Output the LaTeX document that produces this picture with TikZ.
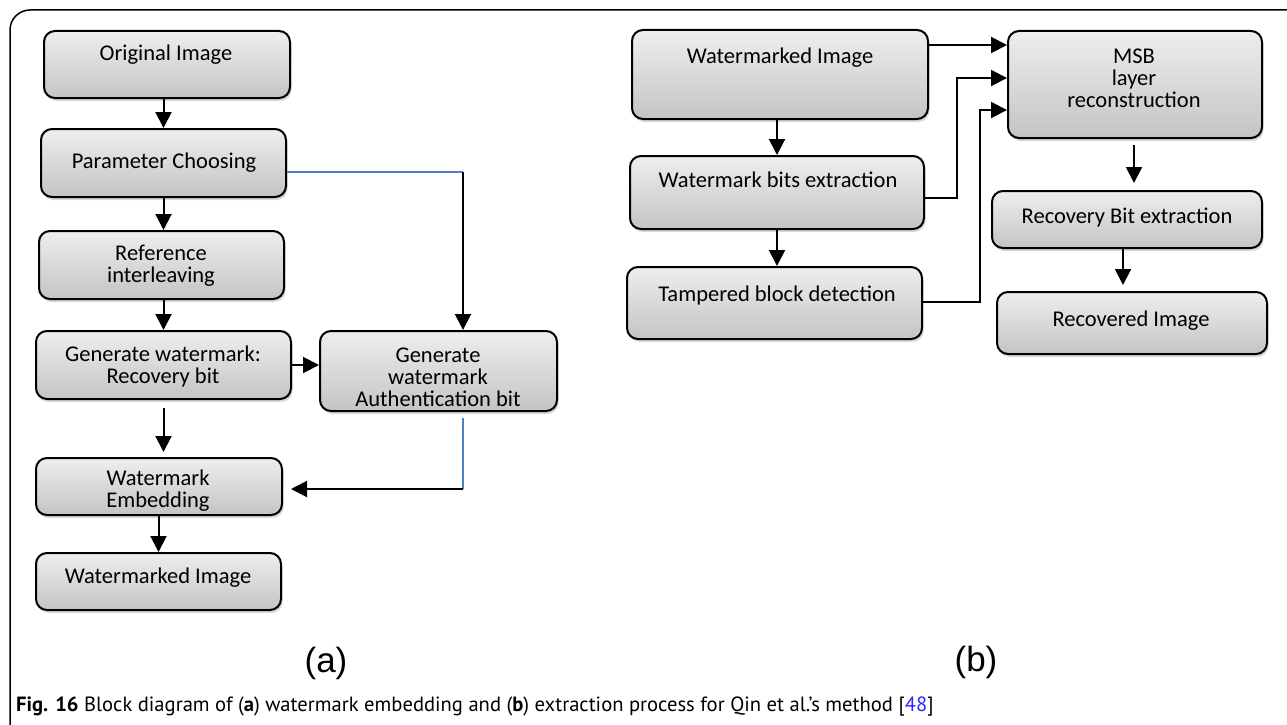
\documentclass[tikz,border=0pt]{standalone}
\usepackage{fontspec}
\setmainfont{Carlito}
\newfontfamily\panelfont{Liberation Sans}
\newfontfamily\capfont{PT Sans}
\usetikzlibrary{arrows.meta,shadows}
\definecolor{boxtop}{RGB}{238,238,238}
\definecolor{boxbot}{RGB}{196,196,196}
\definecolor{linkblue}{RGB}{79,129,189}
\definecolor{citeblue}{RGB}{40,40,255}
\begin{document}
\begin{tikzpicture}[x=1pt,y=-1pt,
  blk/.style={draw=black, line width=2pt, rounded corners=11pt,
    top color=boxtop, bottom color=boxbot, inner sep=0pt,
    drop shadow={shadow xshift=1.5pt, shadow yshift=-3pt, opacity=0.3}},
  txt/.style={font=\fontsize{22.5}{22}\selectfont, align=center, inner sep=0pt},
  arr/.style={line width=2pt, -{Triangle[length=16pt,width=16pt]}},
  bl/.style={line width=1.6pt, draw=linkblue},
  panel/.style={font=\panelfont\fontsize{35}{40}\selectfont, inner sep=0pt}]
\useasboundingbox (0,0) rectangle (1287,725);
\fill[white] (0,0) rectangle (1287,725);
% outer frame
\draw[line width=1.5pt, rounded corners=20pt] (1300,10) -- (10,10) -- (10,745) -- (40,745);

% ---------- (a) embedding ----------
\node[blk, minimum width=246pt, minimum height=67pt] (oi) at (167,64.5) {};
\node[txt] (oi-t) at (166,55) {Original Image};
\node[blk, minimum width=245pt, minimum height=68pt] (pc) at (163.5,163) {};
\node[txt] (pc-t) at (164,163) {Parameter Choosing};
\node[blk, minimum width=245pt, minimum height=68pt] (ri) at (161.5,265) {};
\node[txt] (ri-t) at (161,266) {Reference\\interleaving};
\node[blk, minimum width=255pt, minimum height=68pt] (gr) at (163.5,365) {};
\node[txt] (gr-t) at (163,366) {Generate watermark:\\Recovery bit};
\node[blk, minimum width=237pt, minimum height=80pt] (ga) at (438.5,371) {};
\node[txt] (ga-t) at (438,377) {Generate\\watermark\\Authentication bit};
\node[blk, minimum width=246pt, minimum height=57pt] (we) at (159,486.5) {};
\node[txt] (we-t) at (158,491) {Watermark\\Embedding};
\node[blk, minimum width=245pt, minimum height=57pt] (wi) at (158.5,581.5) {};
\node[txt] (wi-t) at (158,578) {Watermarked Image};

\draw[arr] (oi.south -| pc.north) -- (pc.north);
\draw[arr] (pc.south) -- (ri.north -| pc.south);
\draw[arr] (ri.south -| gr.north) -- (gr.north);
\draw[arr] (gr.east) -- (ga.west |- gr.east);
\draw[arr, shorten <=8pt, shorten >=5pt] (gr.south) -- (we.north -| gr.south);
\draw[arr] (we.south -| wi.north) -- (wi.north);

\coordinate (pa) at (463,172);
\coordinate (pb) at (463,489);
\draw[bl] ([yshift=-9pt]pc.east) -- (pa);
\draw[arr] (pa) -- (pa |- ga.north);
\draw[bl, shorten <=6pt] (ga.south -| pb) -- (pb);
\draw[arr, shorten >=8pt] (pb) -- (pb -| we.east);

\node[panel] (la) at (326,663) {(a)};

% ---------- (b) extraction ----------
\node[blk, minimum width=296pt, minimum height=89pt] (wb) at (780,74.5) {};
\node[txt] (wb-t) at (780,58) {Watermarked Image};
\node[blk, minimum width=254pt, minimum height=107pt] (msb) at (1135,84.5) {};
\node[txt] (msb-t) at (1134,78) {MSB\\layer\\reconstruction};
\node[blk, minimum width=294pt, minimum height=73pt] (wbe) at (777,192.5) {};
\node[txt] (wbe-t) at (778,180) {Watermark bits extraction};
\node[blk, minimum width=295pt, minimum height=72pt] (tbd) at (774.5,303) {};
\node[txt] (tbd-t) at (777,295) {Tampered block detection};
\node[blk, minimum width=270pt, minimum height=57pt] (rbe) at (1127,219.5) {};
\node[txt] (rbe-t) at (1127,218) {Recovery Bit extraction};
\node[blk, minimum width=270pt, minimum height=62pt] (rim) at (1132,323) {};
\node[txt] (rim-t) at (1131,321) {Recovered Image};

\draw[arr] ([yshift=29.5pt]wb.east) -- ([yshift=39.5pt]msb.west);
\draw[arr] ([yshift=-5.5pt]wbe.east) -- ++(32,0) |- ([yshift=6.5pt]msb.west);
\draw[arr] ([yshift=1pt]tbd.east) -- ++(57,0) |- ([yshift=-25.5pt]msb.west);
\draw[arr] (wb.south -| wbe.north) -- (wbe.north);
\draw[arr] (wbe.south) -- (tbd.north -| wbe.south);
\draw[arr, shorten <=6pt, shorten >=7pt] (msb.south -| 1134,0) -- (rbe.north -| 1134,0);
\draw[arr, shorten >=6pt] (rbe.south -| 1123,0) -- (rim.north -| 1123,0);

\node[panel] (lb) at (976,662) {(b)};

% caption
\node[anchor=west, inner sep=0pt, font=\capfont\fontsize{20.6}{24}\selectfont] (cap) at (16,707)
  {\textbf{Fig. 16} Block diagram of (\textbf{a}) watermark embedding and (\textbf{b}) extraction process for Qin et al.’s method [\textcolor{citeblue}{48}]};
\end{tikzpicture}
\end{document}
